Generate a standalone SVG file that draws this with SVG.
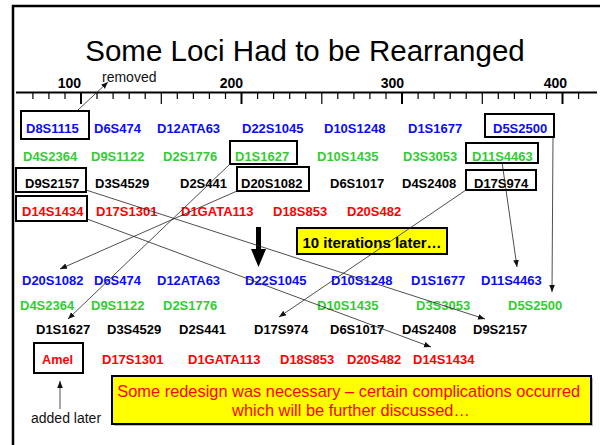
<svg xmlns="http://www.w3.org/2000/svg" width="600" height="445" viewBox="0 0 600 445">
  <style>
    .loc { font-family: "Liberation Sans", Arial, sans-serif; font-weight: bold; font-size: 13px; }
    .blue { fill: #0a0aff; }
    .green { fill: #33cc33; }
    .black { fill: #000; }
    .red { fill: #ff0000; }
    .box { fill: none; stroke: #000; stroke-width: 2; }
    .tick { stroke: #000; stroke-width: 1.2; }
    .major { stroke: #000; stroke-width: 2; }
    .num { font-family: "Liberation Sans", Arial, sans-serif; font-weight: bold; font-size: 14px; fill: #000; text-anchor: end; }
    .link { fill: none; stroke: #222; stroke-width: 0.8; marker-end: url(#head); }
    .note { font-family: "Liberation Sans", Arial, sans-serif; font-size: 14px; fill: #111; }
  </style>
  <defs>
    <marker id="head" viewBox="0 0 10 10" refX="10" refY="5" markerWidth="7" markerHeight="7" markerUnits="userSpaceOnUse" orient="auto">
      <path d="M0,1 L10,5 L0,9 Z" fill="#111"/>
    </marker>
  </defs>

  <rect width="600" height="445" fill="#fff"/>
  <!-- slide frame -->
  <path d="M13,445 V6 H600" fill="none" stroke="#000" stroke-width="2.5"/>

  <!-- title -->
  <text x="305" y="61" font-family="Liberation Sans, Arial, sans-serif" font-size="29.5" text-anchor="middle" fill="#000">Some Loci Had to be Rearranged</text>

  <!-- ruler -->
  <g id="ruler">
    <line x1="16" y1="92.5" x2="597" y2="92.5" stroke="#000" stroke-width="2"/>
    <g class="tick">
      <line x1="32.9" y1="93" x2="32.9" y2="99"/>
      <line x1="48.9" y1="93" x2="48.9" y2="99"/>
      <line x1="65" y1="93" x2="65" y2="99"/>
      <line x1="97" y1="93" x2="97" y2="99"/>
      <line x1="113.1" y1="93" x2="113.1" y2="99"/>
      <line x1="129.2" y1="93" x2="129.2" y2="99"/>
      <line x1="145.2" y1="93" x2="145.2" y2="99"/>
      <line x1="161.3" y1="93" x2="161.3" y2="104"/>
      <line x1="177.3" y1="93" x2="177.3" y2="99"/>
      <line x1="193.4" y1="93" x2="193.4" y2="99"/>
      <line x1="209.4" y1="93" x2="209.4" y2="99"/>
      <line x1="225.5" y1="93" x2="225.5" y2="99"/>
      <line x1="257.6" y1="93" x2="257.6" y2="99"/>
      <line x1="273.6" y1="93" x2="273.6" y2="99"/>
      <line x1="289.7" y1="93" x2="289.7" y2="99"/>
      <line x1="305.7" y1="93" x2="305.7" y2="99"/>
      <line x1="321.8" y1="93" x2="321.8" y2="104"/>
      <line x1="337.8" y1="93" x2="337.8" y2="99"/>
      <line x1="353.9" y1="93" x2="353.9" y2="99"/>
      <line x1="369.9" y1="93" x2="369.9" y2="99"/>
      <line x1="386" y1="93" x2="386" y2="99"/>
      <line x1="418.1" y1="93" x2="418.1" y2="99"/>
      <line x1="434.1" y1="93" x2="434.1" y2="99"/>
      <line x1="450.2" y1="93" x2="450.2" y2="99"/>
      <line x1="466.2" y1="93" x2="466.2" y2="99"/>
      <line x1="482.3" y1="93" x2="482.3" y2="104"/>
      <line x1="498.3" y1="93" x2="498.3" y2="99"/>
      <line x1="514.4" y1="93" x2="514.4" y2="99"/>
      <line x1="530.4" y1="93" x2="530.4" y2="99"/>
      <line x1="546.5" y1="93" x2="546.5" y2="99"/>
      <line x1="578.6" y1="93" x2="578.6" y2="99"/>
    </g>
    <g class="major">
      <line x1="81" y1="93" x2="81" y2="104"/>
      <line x1="241.5" y1="93" x2="241.5" y2="104"/>
      <line x1="402" y1="93" x2="402" y2="104"/>
      <line x1="562.5" y1="93" x2="562.5" y2="104"/>
    </g>
    <text class="num" x="81" y="88">100</text>
    <text class="num" x="243" y="88">200</text>
    <text class="num" x="404" y="88">300</text>
    <text class="num" x="567" y="88">400</text>
  </g>

  <!-- original marker order -->
  <g id="row-before-1" class="loc blue">
    <text x="26" y="133">D8S1115</text>
    <text x="94" y="133">D6S474</text>
    <text x="157" y="133">D12ATA63</text>
    <text x="242" y="133">D22S1045</text>
    <text x="324" y="133">D10S1248</text>
    <text x="408" y="133">D1S1677</text>
    <text x="493" y="133">D5S2500</text>
  </g>
  <g id="row-before-2" class="loc green">
    <text x="23" y="160.5">D4S2364</text>
    <text x="91" y="160.5">D9S1122</text>
    <text x="163" y="160.5">D2S1776</text>
    <text x="235" y="160.5">D1S1627</text>
    <text x="317" y="160.5">D10S1435</text>
    <text x="403" y="160.5">D3S3053</text>
    <text x="472" y="160.5">D11S4463</text>
  </g>
  <g id="row-before-3" class="loc black">
    <text x="25" y="187.5">D9S2157</text>
    <text x="95" y="187.5">D3S4529</text>
    <text x="180" y="187.5">D2S441</text>
    <text x="241" y="187.5">D20S1082</text>
    <text x="330" y="187.5">D6S1017</text>
    <text x="402" y="187.5">D4S2408</text>
    <text x="474" y="187.5">D17S974</text>
  </g>
  <g id="row-before-4" class="loc red">
    <text x="22" y="215.5">D14S1434</text>
    <text x="96" y="215.5">D17S1301</text>
    <text x="181" y="215.5">D1GATA113</text>
    <text x="273" y="215.5">D18S853</text>
    <text x="347" y="215.5">D20S482</text>
  </g>

  <!-- boxes around moved markers -->
  <g id="moved-boxes">
    <rect class="box" x="21" y="111" width="68" height="28"/>
    <rect class="box" x="485" y="114" width="69" height="23"/>
    <rect class="box" x="230" y="141" width="67" height="23"/>
    <rect class="box" x="466" y="143" width="72" height="20"/>
    <rect class="box" x="16" y="168" width="70" height="24"/>
    <rect class="box" x="237" y="167" width="72" height="24"/>
    <rect class="box" x="466" y="170" width="70" height="20"/>
    <rect class="box" x="16" y="196" width="71" height="25"/>
  </g>

  <!-- new marker order -->
  <g id="row-after-1" class="loc blue">
    <text x="22" y="285">D20S1082</text>
    <text x="94" y="285">D6S474</text>
    <text x="157" y="285">D12ATA63</text>
    <text x="245" y="285">D22S1045</text>
    <text x="331" y="285">D10S1248</text>
    <text x="411" y="285">D1S1677</text>
    <text x="481" y="285">D11S4463</text>
  </g>
  <g id="row-after-2" class="loc green">
    <text x="20" y="310">D4S2364</text>
    <text x="91" y="310">D9S1122</text>
    <text x="163" y="310">D2S1776</text>
    <text x="317" y="310">D10S1435</text>
    <text x="416" y="310">D3S3053</text>
    <text x="508" y="310">D5S2500</text>
  </g>
  <g id="row-after-3" class="loc black">
    <text x="36" y="334">D1S1627</text>
    <text x="107" y="334">D3S4529</text>
    <text x="179" y="334">D2S441</text>
    <text x="254" y="334">D17S974</text>
    <text x="330" y="334">D6S1017</text>
    <text x="402" y="334">D4S2408</text>
    <text x="473" y="334">D9S2157</text>
  </g>
  <g id="row-after-4" class="loc red">
    <text x="42" y="364" font-size="12.7">Amel</text>
    <text x="102" y="364">D17S1301</text>
    <text x="188" y="364">D1GATA113</text>
    <text x="280" y="364">D18S853</text>
    <text x="347" y="364">D20S482</text>
    <text x="413" y="364">D14S1434</text>
  </g>
  <g id="amel-box">
    <rect class="box" x="34" y="343" width="49" height="30"/>
  </g>

  <!-- iteration callout and big arrow -->
  <g id="iterations">
    <rect x="297" y="228" width="150" height="26" fill="#ffff00" stroke="#000" stroke-width="2"/>
    <text x="372" y="248" font-family="Liberation Sans, Arial, sans-serif" font-weight="bold" font-size="15" text-anchor="middle" fill="#000">10 iterations later…</text>
  </g>
  <g id="down-arrow">
    <rect x="256" y="227" width="5" height="23" fill="#000"/>
    <path d="M251,249 L266,249 L258.5,267 Z" fill="#000"/>
  </g>

  <!-- connectors -->
  <g id="connectors">
    <line class="link" x1="78" y1="110" x2="108" y2="82"/>
    <line class="link" x1="230" y1="164" x2="68" y2="319"/>
    <line class="link" x1="237" y1="191" x2="60" y2="269"/>
    <line class="link" x1="86" y1="190" x2="485" y2="319"/>
    <line class="link" x1="87" y1="219" x2="431" y2="347"/>
    <line class="link" x1="466" y1="190" x2="279" y2="317"/>
    <line class="link" x1="502" y1="162" x2="517" y2="267"/>
    <line class="link" x1="553" y1="137" x2="552" y2="292"/>
    <line class="link" x1="60" y1="409" x2="60" y2="381" stroke="#555"/>
  </g>

  <!-- labels -->
  <text class="note" x="102" y="82">removed</text>
  <text class="note" x="31" y="423">added later</text>

  <!-- summary callout -->
  <g id="summary">
    <rect x="114" y="378" width="479" height="48" fill="#bbb"/>
    <rect x="112" y="376" width="479" height="48" fill="#ffff00" stroke="#000" stroke-width="2"/>
    <text font-family="Liberation Sans, Arial, sans-serif" font-size="16.4" fill="#ff0000" text-anchor="middle">
      <tspan x="351" y="397">Some redesign was necessary – certain complications occurred</tspan>
      <tspan x="351" y="416">which will be further discussed…</tspan>
    </text>
  </g>
</svg>
